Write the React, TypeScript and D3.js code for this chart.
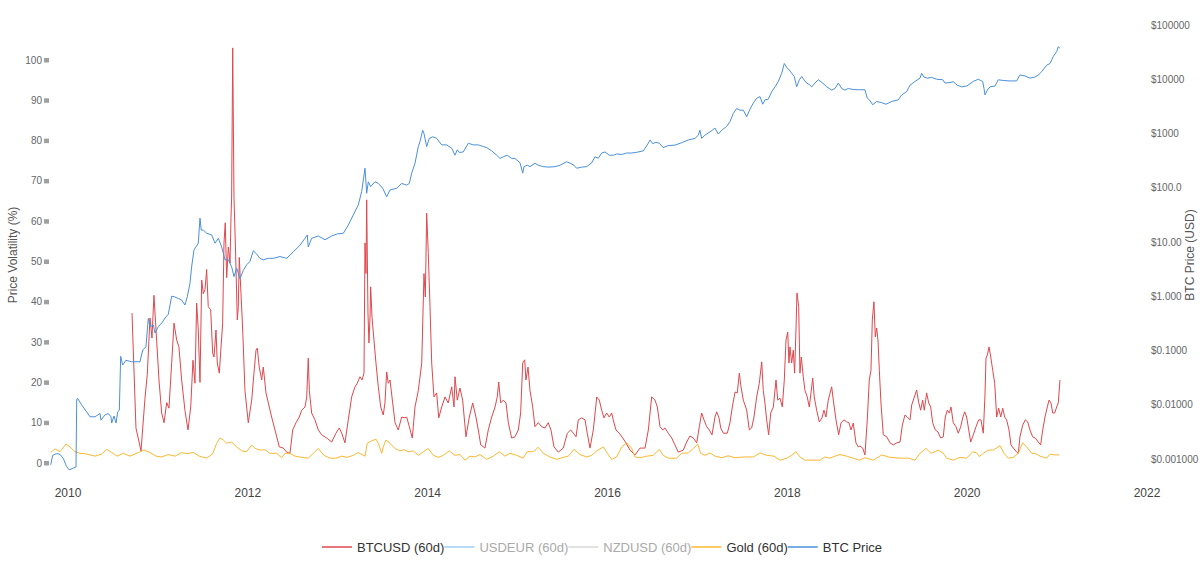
import { useEffect, useRef } from 'react';
import * as d3 from 'd3';

// [decimal year, value]
const btcVol: [number, number][] = [
  [2010.712, 37.2], [2010.756, 8.7], [2010.812, 3], [2010.856, 16], [2010.882, 22], [2010.912, 36], [2010.934, 31], [2010.956, 41.6], [2010.979, 33],
  [2011.012, 20.6], [2011.042, 12.4], [2011.068, 10], [2011.098, 15], [2011.123, 13.6], [2011.153, 24.8], [2011.179, 34.7], [2011.209, 30.5], [2011.234, 28.8],
  [2011.264, 20.6], [2011.301, 13], [2011.335, 8.2], [2011.365, 13.9], [2011.390, 25.5], [2011.412, 19.8], [2011.431, 39.7], [2011.449, 33], [2011.468, 20],
  [2011.487, 45.4], [2011.505, 42], [2011.524, 43], [2011.542, 48], [2011.560, 38.8], [2011.587, 38], [2011.609, 27.3], [2011.624, 26.3], [2011.646, 33],
  [2011.660, 24.8], [2011.683, 22.3], [2011.702, 28.8], [2011.720, 34.7], [2011.735, 54.6], [2011.749, 59.6], [2011.765, 46], [2011.783, 53.6], [2011.802, 49.6],
  [2011.813, 61], [2011.820, 66], [2011.832, 103], [2011.846, 66], [2011.861, 54.6], [2011.883, 35.5], [2011.894, 38.8], [2011.905, 51], [2011.924, 42],
  [2011.943, 33], [2011.968, 18], [2012.005, 10], [2012.043, 15.6], [2012.068, 22.3], [2012.091, 28], [2012.105, 28.5], [2012.127, 23.8], [2012.154, 20.6],
  [2012.172, 23.8], [2012.202, 17.4], [2012.228, 14.9], [2012.265, 11.4], [2012.302, 8.2], [2012.350, 4], [2012.394, 3.7], [2012.432, 2.7], [2012.469, 2.4],
  [2012.499, 8.2], [2012.536, 10], [2012.572, 11.4], [2012.599, 13.1], [2012.636, 13.9], [2012.655, 16.4], [2012.672, 26], [2012.684, 18], [2012.710, 12.4],
  [2012.747, 10.7], [2012.784, 8.2], [2012.821, 7], [2012.877, 6.2], [2012.933, 5.2], [2012.980, 7.4], [2013.017, 8.7], [2013.044, 7.4], [2013.080, 5],
  [2013.117, 10.7], [2013.155, 16.4], [2013.192, 18.9], [2013.217, 19.8], [2013.247, 21.4], [2013.270, 20.6], [2013.292, 22.3], [2013.303, 54.6], [2013.314, 47],
  [2013.322, 65.3], [2013.336, 37.2], [2013.347, 29.8], [2013.359, 36.2], [2013.366, 43.7], [2013.381, 36.2], [2013.403, 30.5], [2013.425, 24.8], [2013.451, 18.9],
  [2013.478, 13.9], [2013.506, 11.9], [2013.525, 14.9], [2013.544, 22.6], [2013.562, 19.8], [2013.581, 20.6], [2013.611, 14.9], [2013.637, 10], [2013.673, 8.2],
  [2013.711, 11.4], [2013.748, 11.2], [2013.767, 11.4], [2013.796, 9], [2013.829, 6.2], [2013.859, 13.9], [2013.896, 18], [2013.934, 24.8], [2013.959, 47],
  [2013.974, 41.2], [2013.989, 62], [2014.007, 52], [2014.026, 38.8], [2014.045, 24.8], [2014.070, 16.4], [2014.100, 17.4], [2014.123, 11.2], [2014.156, 13.9],
  [2014.193, 16.4], [2014.229, 14.9], [2014.267, 18.9], [2014.293, 13.9], [2014.304, 21.4], [2014.329, 15.6], [2014.359, 18.6], [2014.389, 15.6], [2014.426, 6.5],
  [2014.463, 11.4], [2014.501, 14.9], [2014.537, 11.4], [2014.563, 8.2], [2014.590, 4.5], [2014.637, 3.7], [2014.674, 8.2], [2014.712, 11.4], [2014.749, 13.9],
  [2014.774, 16.4], [2014.790, 20.1], [2014.812, 14.9], [2014.841, 15.6], [2014.871, 14.9], [2014.897, 10], [2014.934, 6.2], [2014.971, 6.5], [2015.008, 8.2],
  [2015.034, 12.4], [2015.057, 24.8], [2015.079, 25.6], [2015.093, 20.6], [2015.116, 23.8], [2015.138, 18], [2015.168, 13.9], [2015.193, 9], [2015.230, 10],
  [2015.268, 9], [2015.305, 8.7], [2015.341, 10], [2015.371, 8.2], [2015.405, 4], [2015.453, 2.7], [2015.508, 3.7], [2015.553, 7.4], [2015.591, 8.2],
  [2015.620, 7.4], [2015.650, 6.5], [2015.675, 10.7], [2015.713, 11.2], [2015.750, 10.7], [2015.775, 7.4], [2015.805, 3.7], [2015.842, 8.2], [2015.869, 13.9],
  [2015.880, 16.4], [2015.909, 15.6], [2015.935, 13.1], [2015.961, 11.2], [2015.991, 12.4], [2016.020, 11.4], [2016.046, 12.4], [2016.064, 10.7], [2016.094, 8.2],
  [2016.131, 7.4], [2016.169, 6.2], [2016.205, 5], [2016.250, 3.2], [2016.306, 2], [2016.361, 3.7], [2016.417, 3.7], [2016.454, 8.2], [2016.491, 16.4],
  [2016.528, 15.6], [2016.554, 13.9], [2016.584, 9], [2016.614, 8.2], [2016.639, 8.7], [2016.676, 7.4], [2016.714, 6.2], [2016.750, 4.5], [2016.787, 2.7],
  [2016.843, 3.2], [2016.880, 5.2], [2016.917, 6.7], [2016.954, 6.2], [2016.992, 5], [2017.021, 9], [2017.047, 12.4], [2017.073, 10.7], [2017.103, 9],
  [2017.132, 8.2], [2017.162, 7], [2017.195, 11.4], [2017.214, 12.7], [2017.240, 11.2], [2017.259, 8.7], [2017.288, 7.4], [2017.332, 7.4], [2017.362, 10],
  [2017.388, 13.9], [2017.418, 17.6], [2017.443, 17.4], [2017.466, 22.3], [2017.481, 19.4], [2017.510, 15.6], [2017.548, 13.1], [2017.577, 8.2], [2017.603, 8.7],
  [2017.629, 11.4], [2017.659, 16.4], [2017.688, 19.8], [2017.715, 25.1], [2017.732, 18], [2017.751, 14.9], [2017.770, 10.7], [2017.792, 7], [2017.815, 12.4],
  [2017.844, 13.9], [2017.874, 20.6], [2017.893, 15.6], [2017.918, 16.1], [2017.944, 13.9], [2017.966, 20.6], [2017.985, 30.5], [2018.004, 32.5], [2018.018, 24.8],
  [2018.029, 28.8], [2018.048, 24.8], [2018.066, 28], [2018.081, 22.3], [2018.096, 33], [2018.107, 42.2], [2018.126, 38.8], [2018.140, 22.3], [2018.155, 26.3],
  [2018.177, 21.4], [2018.196, 18], [2018.221, 16.4], [2018.244, 13.9], [2018.263, 17.4], [2018.282, 21.1], [2018.299, 16.4], [2018.326, 13.1], [2018.355, 10.2],
  [2018.385, 11.2], [2018.407, 13.1], [2018.429, 11.4], [2018.455, 15.6], [2018.493, 18.9], [2018.511, 15.6], [2018.541, 10.7], [2018.571, 7], [2018.597, 10],
  [2018.630, 10.7], [2018.660, 10.2], [2018.685, 10], [2018.708, 8.2], [2018.733, 9.9], [2018.763, 5], [2018.789, 4], [2018.808, 4.2], [2018.838, 3.7],
  [2018.863, 2], [2018.889, 10.7], [2018.911, 20.6], [2018.930, 23], [2018.945, 35.5], [2018.963, 40], [2018.978, 31.3], [2018.993, 33.5], [2019.008, 30.5],
  [2019.023, 23], [2019.041, 14.9], [2019.067, 7], [2019.105, 6.5], [2019.142, 5], [2019.178, 4.5], [2019.216, 5], [2019.253, 5.2], [2019.279, 9.4],
  [2019.308, 11.9], [2019.334, 11.4], [2019.364, 10.7], [2019.383, 14.4], [2019.408, 16.1], [2019.438, 18.1], [2019.460, 15.1], [2019.483, 13.1], [2019.505, 15.6],
  [2019.523, 13.1], [2019.549, 17.4], [2019.572, 14.9], [2019.594, 13.9], [2019.616, 10], [2019.645, 8.2], [2019.675, 7.7], [2019.705, 6.2], [2019.734, 6.5],
  [2019.756, 11.4], [2019.779, 13.1], [2019.801, 12.4], [2019.820, 13.9], [2019.845, 10], [2019.875, 9], [2019.901, 7.4], [2019.928, 9], [2019.950, 11.2],
  [2019.972, 12.7], [2019.994, 11.4], [2020.017, 8.2], [2020.039, 5.2], [2020.068, 7], [2020.098, 9], [2020.128, 10.7], [2020.153, 10.7], [2020.179, 7.4],
  [2020.198, 16.9], [2020.209, 26], [2020.224, 26.8], [2020.243, 28.8], [2020.262, 26.3], [2020.284, 23], [2020.306, 19.8], [2020.328, 11.4], [2020.350, 13.6],
  [2020.373, 11.4], [2020.395, 13.6], [2020.417, 11.4], [2020.439, 10.7], [2020.465, 8.2], [2020.487, 4.5], [2020.513, 3.7], [2020.550, 2.7], [2020.568, 2.4],
  [2020.587, 6.5], [2020.617, 9.4], [2020.646, 10.7], [2020.673, 10.2], [2020.698, 8.2], [2020.728, 6.5], [2020.757, 6.2], [2020.791, 5.2], [2020.817, 4.5],
  [2020.840, 8.2], [2020.865, 11.4], [2020.891, 13.9], [2020.910, 15.6], [2020.932, 14.9], [2020.951, 12.4], [2020.973, 12.4], [2020.995, 13.9], [2021.013, 14.9],
  [2021.032, 20.6],
];

const goldVol: [number, number][] = [
  [2009.808, 2.6], [2009.855, 3.5], [2009.911, 2.8], [2009.978, 4.7], [2010.022, 4.0], [2010.078, 2.8], [2010.133, 2.4], [2010.189, 2.3], [2010.300, 1.7],
  [2010.375, 2.2], [2010.430, 3.4], [2010.486, 2.6], [2010.548, 1.7], [2010.615, 2.4], [2010.690, 1.7], [2010.782, 2.6], [2010.845, 3.2], [2010.912, 2.6],
  [2010.979, 1.7], [2011.042, 1.5], [2011.115, 2.1], [2011.190, 1.7], [2011.264, 2.6], [2011.320, 2.3], [2011.393, 2.6], [2011.460, 1.7], [2011.542, 1.2],
  [2011.609, 2.3], [2011.654, 4.9], [2011.690, 6.2], [2011.727, 5.7], [2011.765, 4.9], [2011.820, 5.2], [2011.876, 4.0], [2011.932, 3.0], [2011.987, 2.8],
  [2012.043, 4.5], [2012.080, 3.6], [2012.135, 3.2], [2012.191, 3.3], [2012.246, 2.4], [2012.321, 2.4], [2012.377, 1.3], [2012.413, 2.4], [2012.469, 2.4],
  [2012.524, 1.7], [2012.599, 1.4], [2012.672, 1.2], [2012.728, 2.4], [2012.784, 3.6], [2012.847, 1.9], [2012.914, 1.2], [2012.980, 1.2], [2013.044, 1.7],
  [2013.106, 1.4], [2013.173, 1.9], [2013.228, 2.6], [2013.303, 1.7], [2013.328, 4.9], [2013.377, 5.5], [2013.425, 5.9], [2013.451, 4.9], [2013.489, 2.4],
  [2013.506, 4.0], [2013.536, 5.7], [2013.581, 4.9], [2013.637, 3.6], [2013.692, 3.0], [2013.737, 3.3], [2013.784, 2.8], [2013.840, 3.0], [2013.896, 1.9],
  [2013.951, 2.8], [2014.007, 3.6], [2014.063, 1.9], [2014.118, 1.4], [2014.174, 1.9], [2014.240, 3.0], [2014.304, 1.9], [2014.359, 2.1], [2014.415, 0.7],
  [2014.471, 1.7], [2014.526, 1.5], [2014.582, 2.1], [2014.656, 0.9], [2014.730, 1.7], [2014.797, 2.8], [2014.860, 1.7], [2014.915, 2.4], [2014.990, 1.9],
  [2015.063, 1.2], [2015.108, 2.8], [2015.175, 2.8], [2015.230, 3.9], [2015.286, 2.4], [2015.360, 1.5], [2015.435, 0.9], [2015.508, 1.4], [2015.564, 1.7],
  [2015.627, 3.4], [2015.694, 2.1], [2015.768, 1.5], [2015.824, 1.9], [2015.880, 3.0], [2015.953, 4.0], [2015.998, 2.4], [2016.047, 0.9], [2016.102, 1.5],
  [2016.158, 4.0], [2016.213, 5.0], [2016.269, 3.6], [2016.306, 1.5], [2016.361, 1.3], [2016.436, 1.7], [2016.509, 1.9], [2016.576, 3.4], [2016.620, 1.9],
  [2016.676, 1.2], [2016.769, 1.2], [2016.825, 2.4], [2016.898, 2.5], [2016.954, 3.6], [2017.003, 4.7], [2017.036, 2.4], [2017.084, 1.9], [2017.140, 2.5],
  [2017.195, 1.7], [2017.270, 1.3], [2017.343, 1.8], [2017.418, 1.3], [2017.510, 1.5], [2017.621, 1.5], [2017.696, 2.5], [2017.770, 1.9], [2017.851, 1.7],
  [2017.918, 0.7], [2017.993, 1.2], [2018.048, 1.9], [2018.096, 2.8], [2018.141, 1.5], [2018.196, 0.7], [2018.288, 0.7], [2018.363, 0.7], [2018.418, 1.5],
  [2018.474, 1.2], [2018.530, 1.7], [2018.585, 2.1], [2018.660, 1.7], [2018.733, 1.2], [2018.800, 0.7], [2018.863, 1.3], [2018.956, 0.7], [2019.049, 2.0],
  [2019.141, 1.4], [2019.253, 1.2], [2019.345, 1.2], [2019.420, 0.7], [2019.475, 2.4], [2019.542, 3.6], [2019.598, 2.4], [2019.679, 3.2], [2019.734, 2.4],
  [2019.772, 1.2], [2019.845, 0.7], [2019.920, 1.4], [2019.994, 1.2], [2020.061, 2.8], [2020.106, 2.5], [2020.135, 1.6], [2020.179, 2.4], [2020.235, 3.2],
  [2020.290, 3.2], [2020.365, 4.3], [2020.409, 2.4], [2020.457, 1.2], [2020.513, 1.4], [2020.568, 2.4], [2020.617, 5.0], [2020.662, 4.0], [2020.717, 2.4],
  [2020.754, 2.4], [2020.810, 1.7], [2020.884, 1.2], [2020.921, 2.2], [2020.976, 2.0], [2021.024, 2.0],
];

// [decimal year, USD]
const btcPrice: [number, number][] = [
  [2009.808, 0.00078], [2009.830, 0.00117], [2009.874, 0.00126], [2009.911, 0.00122], [2009.948, 0.00102], [2009.986, 0.00072], [2010.014, 0.00063],
  [2010.059, 0.00068], [2010.089, 0.00071], [2010.097, 0.0123], [2010.106, 0.0132], [2010.152, 0.010], [2010.245, 0.0060], [2010.300, 0.0060],
  [2010.356, 0.0069], [2010.367, 0.0052], [2010.411, 0.0065], [2010.448, 0.0069], [2010.478, 0.0060], [2010.486, 0.0046], [2010.512, 0.0062],
  [2010.534, 0.0046], [2010.553, 0.0074], [2010.571, 0.0079], [2010.586, 0.078], [2010.608, 0.054], [2010.645, 0.066], [2010.708, 0.062],
  [2010.801, 0.062], [2010.831, 0.102], [2010.867, 0.117], [2010.893, 0.39], [2010.912, 0.275], [2010.949, 0.295], [2010.968, 0.21],
  [2011.004, 0.275], [2011.042, 0.32], [2011.090, 0.42], [2011.115, 0.46], [2011.153, 1.0], [2011.182, 0.98], [2011.227, 0.91], [2011.264, 0.85],
  [2011.301, 0.69], [2011.327, 0.98], [2011.357, 1.74], [2011.375, 3.5], [2011.401, 7.1], [2011.423, 8.1], [2011.449, 9.5], [2011.468, 27.5],
  [2011.482, 16.6], [2011.505, 16.6], [2011.542, 14.5], [2011.598, 13.5], [2011.635, 9.5], [2011.672, 11.7], [2011.709, 8.1], [2011.746, 4.7],
  [2011.783, 4.7], [2011.820, 3.5], [2011.846, 2.3], [2011.876, 3.3], [2011.913, 2.1], [2011.950, 3.0], [2011.987, 3.8], [2012.024, 4.4],
  [2012.061, 6.9], [2012.098, 6.0], [2012.135, 5.0], [2012.172, 4.7], [2012.228, 5.0], [2012.283, 5.0], [2012.358, 5.4], [2012.432, 5.0],
  [2012.506, 6.6], [2012.580, 8.7], [2012.636, 11.7], [2012.661, 13.5], [2012.672, 8.1], [2012.710, 11.7], [2012.784, 12.9], [2012.858, 11.0],
  [2012.933, 12.9], [2012.995, 14.1], [2013.062, 14.5], [2013.117, 20.4], [2013.173, 31.6], [2013.228, 47.9], [2013.266, 85], [2013.303, 229],
  [2013.322, 79], [2013.340, 129], [2013.366, 105], [2013.414, 129], [2013.451, 120], [2013.500, 98], [2013.544, 68], [2013.581, 91],
  [2013.656, 98], [2013.711, 120], [2013.767, 112], [2013.796, 120], [2013.822, 186], [2013.859, 282], [2013.896, 575], [2013.914, 708],
  [2013.945, 1148], [2013.959, 1000], [2013.989, 575], [2014.018, 813], [2014.056, 871], [2014.100, 813], [2014.156, 617], [2014.211, 617],
  [2014.267, 537], [2014.304, 398], [2014.329, 500], [2014.352, 447], [2014.396, 457], [2014.452, 661], [2014.507, 617], [2014.563, 617],
  [2014.619, 575], [2014.656, 550], [2014.712, 479], [2014.768, 398], [2014.804, 347], [2014.841, 372], [2014.885, 398], [2014.934, 347],
  [2014.971, 347], [2015.027, 288], [2015.057, 186], [2015.071, 245], [2015.108, 260], [2015.138, 245], [2015.193, 282], [2015.230, 260],
  [2015.286, 245], [2015.341, 240], [2015.416, 245], [2015.471, 260], [2015.546, 302], [2015.590, 280], [2015.627, 260], [2015.657, 229],
  [2015.713, 240], [2015.768, 245], [2015.824, 288], [2015.861, 372], [2015.898, 350], [2015.935, 437], [2015.972, 457], [2016.020, 398],
  [2016.065, 398], [2016.102, 420], [2016.158, 410], [2016.213, 437], [2016.269, 437], [2016.324, 450], [2016.398, 479], [2016.443, 617],
  [2016.473, 759], [2016.503, 650], [2016.539, 690], [2016.576, 661], [2016.620, 550], [2016.676, 600], [2016.750, 610], [2016.825, 676],
  [2016.898, 759], [2016.973, 813], [2017.010, 933], [2017.028, 1148], [2017.047, 813], [2017.084, 933], [2017.140, 1072], [2017.195, 1259],
  [2017.232, 977], [2017.270, 1148], [2017.325, 1349], [2017.362, 1660], [2017.399, 2344], [2017.436, 2884], [2017.473, 2692], [2017.510, 2692],
  [2017.548, 2042], [2017.585, 2818], [2017.621, 3631], [2017.659, 4467], [2017.696, 4786], [2017.726, 3467], [2017.751, 4169], [2017.788, 4300],
  [2017.826, 5888], [2017.863, 7244], [2017.900, 9120], [2017.937, 12882], [2017.966, 19498], [2017.993, 16596], [2018.022, 14791], [2018.048, 12882],
  [2018.077, 11220], [2018.104, 7244], [2018.133, 9772], [2018.160, 11220], [2018.185, 9772], [2018.215, 8511], [2018.244, 8000], [2018.271, 7244],
  [2018.307, 8511], [2018.344, 9772], [2018.393, 8511], [2018.438, 7244], [2018.493, 6310], [2018.530, 6761], [2018.567, 8511], [2018.605, 6761],
  [2018.641, 6310], [2018.678, 6761], [2018.733, 6457], [2018.789, 6400], [2018.863, 6400], [2018.889, 4467], [2018.912, 4169], [2018.949, 3388],
  [2018.993, 3890], [2019.049, 3700], [2019.097, 3467], [2019.160, 3890], [2019.234, 4169], [2019.271, 5129], [2019.326, 5888], [2019.364, 7762],
  [2019.420, 9120], [2019.475, 10471], [2019.494, 12882], [2019.519, 10965], [2019.556, 10471], [2019.605, 10800], [2019.661, 10000], [2019.728, 9800],
  [2019.753, 8511], [2019.808, 8700], [2019.845, 9000], [2019.890, 7762], [2019.939, 7244], [2019.994, 7500], [2020.068, 9120], [2020.124, 10000],
  [2020.172, 9120], [2020.187, 6761], [2020.198, 5129], [2020.224, 6310], [2020.254, 7244], [2020.309, 7500], [2020.346, 9772], [2020.401, 9500],
  [2020.476, 9300], [2020.550, 9333], [2020.587, 12023], [2020.643, 11500], [2020.698, 10471], [2020.754, 11000], [2020.791, 12023], [2020.829, 13804],
  [2020.884, 18197], [2020.921, 19498], [2020.958, 26303], [2020.995, 32359], [2021.013, 39811], [2021.032, 37154],
];

const volTicks = [0, 10, 20, 30, 40, 50, 60, 70, 80, 90, 100];
const priceTicks = [0.001, 0.01, 0.1, 1, 10, 100, 1000, 10000, 100000];
const priceTickLabels = ['$0.001000', '$0.01000', '$0.1000', '$1.000', '$10.00', '$100.0', '$1000', '$10000', '$100000'];
const yearTicks = [2010, 2012, 2014, 2016, 2018, 2020, 2022];

const legendItems = [
  { name: 'BTCUSD (60d)', color: '#e0474c', visible: true },
  { name: 'USDEUR (60d)', color: '#9fcff5', visible: false },
  { name: 'NZDUSD (60d)', color: '#d9d9d9', visible: false },
  { name: 'Gold (60d)', color: '#fdb731', visible: true },
  { name: 'BTC Price', color: '#4a90dc', visible: true },
];

const FONT = '"Liberation Sans", Arial, Helvetica, sans-serif';

export default function App() {
  const ref = useRef<SVGSVGElement | null>(null);
  const width = 1200;
  const height = 573;

  useEffect(() => {
    if (!ref.current) return;
    const svg = d3.select(ref.current);
    svg.selectAll('*').remove();

    const x = d3.scaleLinear().domain([2009.8, 2022.033]).range([50, 1150]);
    const yVol = d3.scaleLinear().domain([0, 100]).range([463, 60]);
    const yPrice = d3.scaleLog().domain([0.001, 100000]).range([459, 25]);

    const volLine = d3.line<[number, number]>()
      .x(d => x(d[0]))
      .y(d => yVol(d[1]));
    const priceLine = d3.line<[number, number]>()
      .x(d => x(d[0]))
      .y(d => yPrice(d[1]));

    // left axis
    const left = svg.append('g').attr('font-family', FONT);
    volTicks.forEach(v => {
      left.append('text')
        .attr('x', 42)
        .attr('y', yVol(v))
        .attr('dy', '0.35em')
        .attr('text-anchor', 'end')
        .attr('font-size', '10px')
        .attr('fill', '#666')
        .text(v);
      left.append('rect')
        .attr('x', 44)
        .attr('y', yVol(v) - 2)
        .attr('width', 5)
        .attr('height', 4.5)
        .attr('fill', '#a0a0a0');
    });
    left.append('text')
      .attr('transform', `translate(17,255) rotate(-90)`)
      .attr('text-anchor', 'middle')
      .attr('font-size', '12px')
      .attr('fill', '#555')
      .text('Price Volatility (%)');

    // right axis
    const right = svg.append('g').attr('font-family', FONT);
    priceTicks.forEach((p, i) => {
      right.append('text')
        .attr('x', 1151)
        .attr('y', yPrice(p))
        .attr('dy', '0.35em')
        .attr('font-size', '10px')
        .attr('fill', '#666')
        .text(priceTickLabels[i]);
    });
    right.append('text')
      .attr('transform', `translate(1194,255) rotate(-90)`)
      .attr('text-anchor', 'middle')
      .attr('font-size', '12px')
      .attr('fill', '#555')
      .text('BTC Price (USD)');

    // bottom axis
    const bottom = svg.append('g').attr('font-family', FONT);
    yearTicks.forEach(t => {
      bottom.append('text')
        .attr('x', x(t))
        .attr('y', 493)
        .attr('dy', '0.35em')
        .attr('text-anchor', 'middle')
        .attr('font-size', '12px')
        .attr('fill', '#444')
        .text(t);
    });

    // series
    svg.append('path')
      .datum(btcVol)
      .attr('fill', 'none')
      .attr('stroke', legendItems[0].color)
      .attr('stroke-width', 1)
      .attr('stroke-linejoin', 'round')
      .attr('d', volLine);

    svg.append('path')
      .datum(goldVol)
      .attr('fill', 'none')
      .attr('stroke', legendItems[3].color)
      .attr('stroke-width', 1)
      .attr('stroke-linejoin', 'round')
      .attr('d', volLine);

    svg.append('path')
      .datum(btcPrice)
      .attr('fill', 'none')
      .attr('stroke', legendItems[4].color)
      .attr('stroke-width', 1)
      .attr('stroke-linejoin', 'round')
      .attr('d', priceLine);

    // legend
    const legend = svg.append('g').attr('font-family', FONT);
    const ly = 547;
    const swatch = 30;
    const gap = 5;
    const groups = legendItems.map(item => {
      const g = legend.append('g');
      g.append('line')
        .attr('x1', 0)
        .attr('x2', swatch)
        .attr('y1', ly)
        .attr('y2', ly)
        .attr('stroke', item.color)
        .attr('stroke-width', 1.5);
      const t = g.append('text')
        .attr('x', swatch + gap)
        .attr('y', ly)
        .attr('dy', '0.35em')
        .attr('font-size', '13px')
        .attr('fill', item.visible ? '#333' : '#aaa')
        .text(item.name);
      const w = (t.node() as SVGTextElement).getComputedTextLength();
      return { g, w: swatch + gap + w };
    });
    const total = d3.sum(groups, d => d.w);
    let cx = 602 - total / 2;
    groups.forEach(({ g, w }) => {
      g.attr('transform', `translate(${cx},0)`);
      cx += w;
    });
  }, []);

  return (
    <div style={{ position: 'absolute', left: 0, top: 0 }}>
      <svg ref={ref} width={width} height={height} style={{ display: 'block', background: '#fff' }} />
    </div>
  );
}
